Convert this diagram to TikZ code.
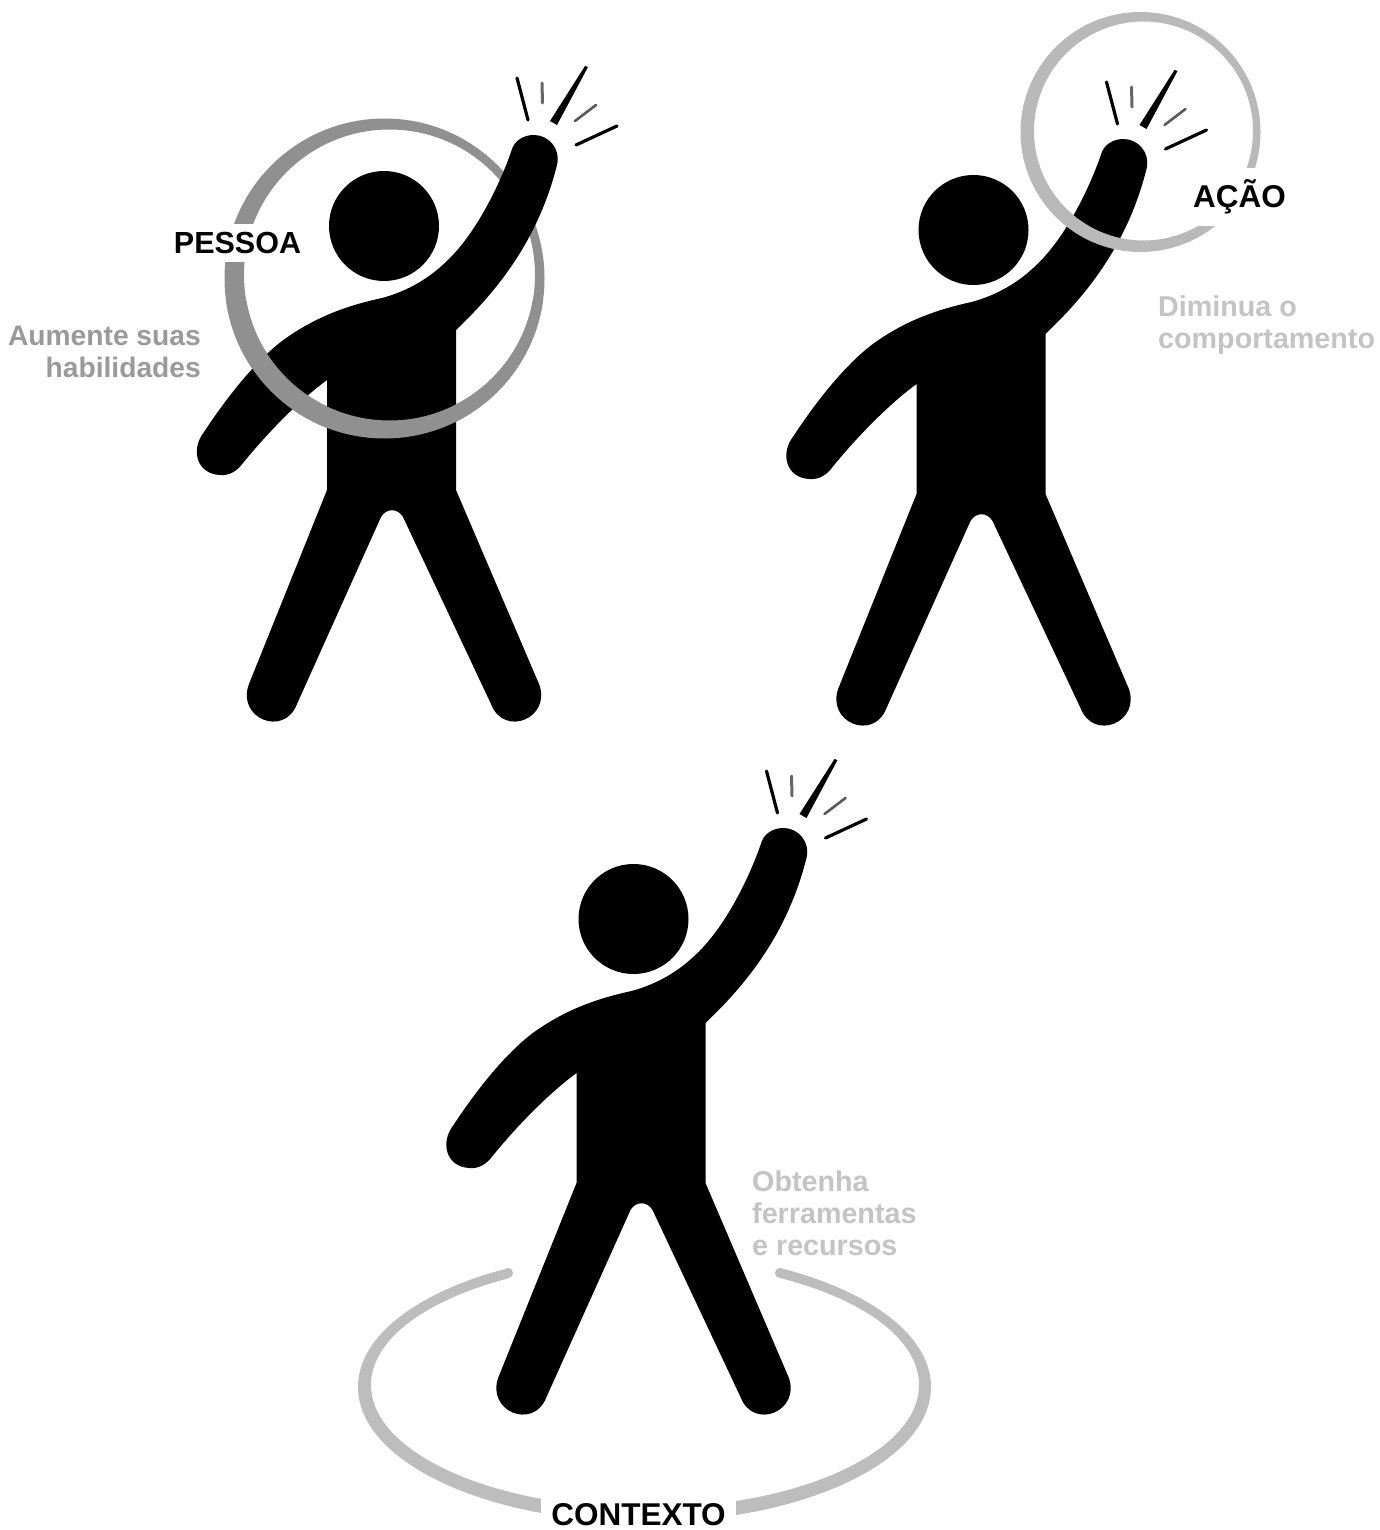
\documentclass[tikz,border=0pt]{standalone}
\usepackage{fontspec}
\setmainfont{Liberation Sans}
\tikzset{
  x=1pt,y=-1pt,
  headlabel/.style={font=\fontsize{31.5}{33}\selectfont\bfseries,text=black,fill=white,inner sep=0pt,anchor=center},
  notelabel/.style={font=\fontsize{28.7}{32}\selectfont\bfseries,inner sep=0pt,anchor=north west,align=left},
  rayline/.style={line cap=round,draw=black},
  person/.pic={
    \fill[black] (511,152)
      .. controls (502,178) and (480,228) .. (449,259)
      .. controls (430,278) and (408,291) .. (382,298)
      .. controls (350,305) and (320,315) .. (289,336)
      .. controls (265,352) and (235,385) .. (204,432)
      .. controls (190,450) and (197,474) .. (220,475)
      .. controls (230,476) and (238,470) .. (243,463)
      .. controls (270,430) and (300,400) .. (327,380)
      -- (327,490) -- (249,684)
      .. controls (236,718) and (284,738) .. (297,704)
      -- (381,517)
      .. controls (386,508) and (398,508) .. (403,517)
      -- (491,704)
      .. controls (504,738) and (552,718) .. (539,684)
      -- (456,490) -- (456,330)
      .. controls (498,290) and (538,240) .. (557,165)
      .. controls (561,148) and (548,135) .. (534,135)
      .. controls (524,135) and (514,140) .. (511,152) -- cycle;
    \node[circle,fill=black,minimum size=110pt,inner sep=0pt] (-head) at (384,226) {};
    \fill[black] (550,121) -- (585,66) -- (588,67) -- (557,125) -- cycle;
    \draw[rayline,line width=3.2pt] (528,120) -- (517,78);
    \draw[rayline,line width=3pt,draw=black!60] (542.5,103) -- (542,83);
    \draw[rayline,line width=2.6pt,draw=black!65] (575,121) -- (596,105);
    \draw[rayline,line width=3.2pt] (576,145) -- (617,126);
  }
}
\begin{document}
\begin{tikzpicture}
\useasboundingbox (0,0) rectangle (1380,1530);
\fill[white] (0,0) rectangle (1380,1530);
\definecolor{ringa}{HTML}{909090}
\definecolor{ringb}{HTML}{B9B9B9}
\definecolor{ringc}{HTML}{BDBDBD}
\definecolor{notea}{HTML}{9A9A9A}
\definecolor{noteb}{HTML}{C4C4C4}
% first figure
\fill[ringa,even odd rule] (384.5,278.5) circle[radius=160] (389.5,275) circle[radius=145.5];
\pic (p1) at (0,0) {person};
\begin{scope}
  \clip (0,300) rectangle (1380,600);
  \fill[ringa,even odd rule] (384.5,278.5) circle[radius=160] (389.5,275) circle[radius=145.5];
\end{scope}
\node[headlabel,font=\fontsize{30.5}{33}\selectfont\bfseries,minimum width=132pt,minimum height=38pt] (pessoa) at (237.5,243) {PESSOA};
\node[notelabel,font=\fontsize{28.2}{32}\selectfont\bfseries,text=notea,anchor=north east,align=right] (aumente) at (201,326) {Aumente suas\\habilidades};
% second figure
\pic (p2) at (589.5,4) {person};
\fill[ringb,even odd rule] (1140.5,132) circle[radius=120] (1143.5,131) circle[radius=109.5];
\node[headlabel,minimum width=106pt,minimum height=58pt] (acao) at (1239.5,197) {AÇÃO};
\node[notelabel,text=noteb] (diminua) at (1158,296) {Diminua o\\comportamento};
% third figure
\pic (p3) at (249.5,693) {person};
\begin{scope}
  \clip (340,1240) -- (508,1240) -- (508,1300) -- (780,1300) -- (780,1240) -- (950,1240) -- (950,1530) -- (340,1530) -- cycle;
  \fill[ringc,even odd rule] (644.5,1387) circle[x radius=286.5,y radius=135] (645,1385) circle[x radius=274,y radius=123];
\end{scope}
\fill[ringc] (508,1273) circle[radius=5];
\fill[ringc] (780,1273) circle[radius=5];
\node[headlabel,minimum width=195pt,minimum height=34pt] (contexto) at (638.5,1515) {CONTEXTO};
\node[notelabel,text=noteb] (obtenha) at (752,1170) {Obtenha\\ferramentas\\e recursos};
\end{tikzpicture}
\end{document}
